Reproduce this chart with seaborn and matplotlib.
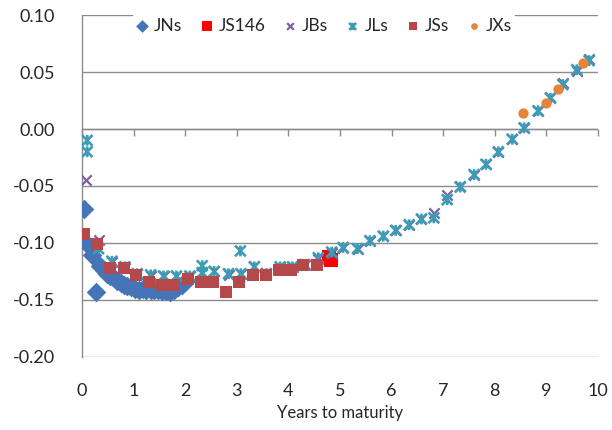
import numpy as np
import pandas as pd
import matplotlib
matplotlib.use("Agg")
import matplotlib.pyplot as plt
import seaborn as sns
from matplotlib.path import Path

# --- data ---
jns_x = [0.04, 0.09, 0.19, 0.27, 0.35, 0.42, 0.48, 0.55, 0.62, 0.68, 0.75, 0.82, 0.88, 0.95,
         1.02, 1.10, 1.18, 1.25, 1.33, 1.40, 1.48, 1.55, 1.63, 1.71, 1.78, 1.86, 1.93, 2.00]
jns_y = [-0.070, -0.101, -0.111, -0.143, -0.120, -0.124, -0.127, -0.129, -0.131, -0.133, -0.135,
         -0.137, -0.138, -0.139, -0.140, -0.141, -0.140, -0.141, -0.141, -0.141, -0.141, -0.142,
         -0.142, -0.143, -0.141, -0.139, -0.137, -0.134]

js146_x = [4.79, 4.83]
js146_y = [-0.112, -0.115]

jbs_x = [0.07, 0.32, 0.58, 0.83, 1.07, 1.33, 1.58, 1.83, 2.09, 2.33, 2.56, 2.84, 3.08, 3.34,
         3.57, 3.84, 4.08, 4.32, 4.58, 4.84, 5.06, 5.34, 5.58, 5.84, 6.08, 6.34, 6.58, 6.82,
         7.08, 7.33, 7.60, 7.83, 8.07, 8.34, 8.57, 8.84, 9.08, 9.32, 9.59, 9.83]
jbs_y = [-0.045, -0.097, -0.117, -0.122, -0.127, -0.129, -0.129, -0.129, -0.129, -0.126, -0.125,
         -0.128, -0.127, -0.120, -0.126, -0.121, -0.121, -0.119, -0.114, -0.109, -0.104, -0.105,
         -0.098, -0.094, -0.089, -0.084, -0.079, -0.074, -0.058, -0.050, -0.040, -0.031, -0.020,
         -0.009, 0.001, 0.016, 0.028, 0.040, 0.051, 0.061]

jls_x = [0.10, 0.10, 0.32, 0.58, 0.83, 1.07, 1.33, 1.58, 1.83, 2.09, 2.33, 2.33, 2.56, 2.84,
         3.07, 3.08, 3.34, 3.57, 3.84, 4.08, 4.32, 4.58, 4.84, 5.06, 5.34, 5.58, 5.84, 6.08,
         6.34, 6.58, 6.82, 7.08, 7.33, 7.60, 7.83, 8.07, 8.34, 8.57, 8.84, 9.08, 9.32, 9.59, 9.83]
jls_y = [-0.010, -0.020, -0.105, -0.116, -0.121, -0.127, -0.128, -0.129, -0.129, -0.129, -0.120,
         -0.126, -0.125, -0.127, -0.107, -0.127, -0.121, -0.127, -0.121, -0.121, -0.119, -0.113,
         -0.108, -0.104, -0.105, -0.098, -0.094, -0.089, -0.084, -0.079, -0.078, -0.062, -0.051,
         -0.040, -0.031, -0.020, -0.009, 0.001, 0.016, 0.027, 0.039, 0.052, 0.060]

jss_x = [0.04, 0.30, 0.54, 0.81, 1.05, 1.29, 1.56, 1.79, 2.06, 2.31, 2.53, 2.80, 3.04, 3.31,
         3.56, 3.82, 4.06, 4.29, 4.56]
jss_y = [-0.092, -0.101, -0.122, -0.122, -0.128, -0.134, -0.137, -0.137, -0.132, -0.134, -0.134,
         -0.143, -0.134, -0.128, -0.128, -0.124, -0.124, -0.119, -0.119]

jxs_x = [8.54, 8.99, 9.22, 9.71]
jxs_y = [0.014, 0.023, 0.035, 0.058]

y_ticks = [-0.20, -0.15, -0.10, -0.05, 0.00, 0.05, 0.10]
y_labels = ["-0.20", "-0.15", "-0.10", "-0.05", "0.00", "0.05", "0.10"]

sns.set_style("white")
plt.rcParams['font.family'] = ['Lato', 'DejaVu Sans']

fig = plt.figure(figsize=(6.12, 4.30), dpi=100)
ax = fig.add_axes([0.134, 0.170, 0.843, 0.795])

# excel style "star": an x with a vertical bar
star = Path([(-1, -1), (1, 1), (-1, 1), (1, -1), (0, -1), (0, 1)],
            [Path.MOVETO, Path.LINETO, Path.MOVETO, Path.LINETO, Path.MOVETO, Path.LINETO])

sns.scatterplot(x=jns_x, y=jns_y, marker="D", s=100, color="#4674B8", edgecolor="#4674B8",
                linewidth=0, label="JNs", ax=ax, zorder=3)
sns.scatterplot(x=js146_x, y=js146_y, marker="s", s=110, color="#FF0000", edgecolor="#FF0000",
                linewidth=0, label="JS146", ax=ax, zorder=3)
sns.scatterplot(x=jbs_x, y=jbs_y, marker="x", s=55, color="#7D5F9E", linewidth=1.6,
                label="JBs", ax=ax, zorder=3)
sns.scatterplot(x=jls_x, y=jls_y, marker=star, s=60, color="#3E9BB5", edgecolor="#3E9BB5",
                facecolor="none", linewidth=1.9, label="JLs", ax=ax, zorder=3)
sns.scatterplot(x=jss_x, y=jss_y, marker="s", s=65, color="#B5484A", edgecolor="#B5484A",
                linewidth=0, label="JSs", ax=ax, zorder=3)
sns.scatterplot(x=jxs_x, y=jxs_y, marker="o", s=55, color="#E5853B", edgecolor="#E5853B",
                linewidth=0, label="JXs", ax=ax, zorder=3)

ax.set_xlim(0, 10)
ax.set_ylim(-0.20, 0.10)
ax.set_xticks(range(0, 11))
ax.set_yticks(y_ticks)
ax.set_yticklabels(y_labels)
ax.grid(axis="y", color="#8C8C8C", linewidth=1.0)
ax.set_axisbelow(True)

for s in ["top", "right", "bottom"]:
    ax.spines[s].set_visible(False)
ax.spines["left"].set_color("#8C8C8C")
ax.spines["left"].set_linewidth(1.0)
ax.tick_params(axis="y", direction="out", length=6.5, color="#8C8C8C", width=1.0,
               labelsize=13, pad=13)
ax.tick_params(axis="x", length=0, labelsize=13, pad=19)

# x axis crossing at y = 0 with tick marks
ax.axhline(0, color="#8C8C8C", linewidth=1.0, zorder=1)
sec = ax.secondary_xaxis(2.0 / 3.0)
sec.set_xticks(range(0, 11))
sec.tick_params(axis="x", direction="out", length=5, color="#8C8C8C", width=1.0,
                labelbottom=False, labeltop=False, bottom=True, top=False)
sec.spines["bottom"].set_visible(False)
sec.spines["top"].set_visible(False)

ax.set_xlabel("Years to maturity", fontsize=12, labelpad=4)
ax.set_ylabel("")

leg = ax.legend(loc="center", bbox_to_anchor=(0.468, 0.968), ncol=6, frameon=True,
                fontsize=12.5, handlelength=0.8, handletextpad=0.3, columnspacing=1.0,
                borderpad=0.2, markerscale=0.65)
leg.get_frame().set_edgecolor("white")
leg.get_frame().set_facecolor("white")
leg.get_frame().set_alpha(1)

fig.savefig("out.png", dpi=100)
